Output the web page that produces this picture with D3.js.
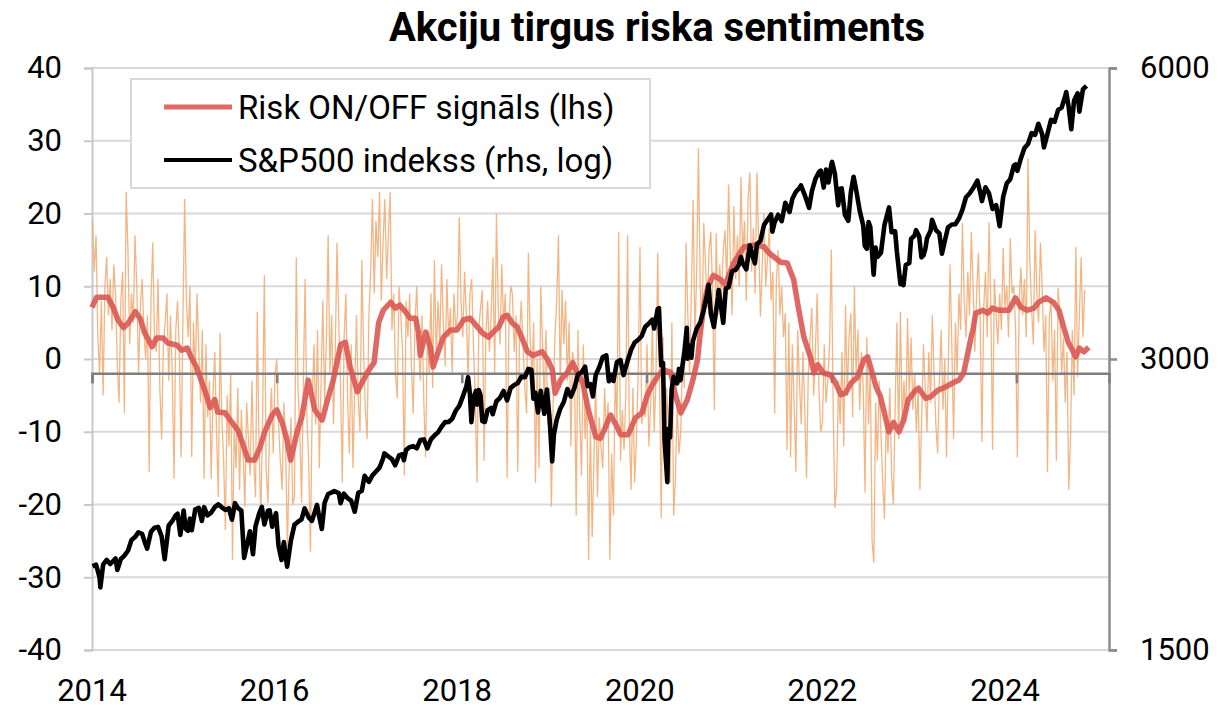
<!DOCTYPE html>
<html><head><meta charset="utf-8">
<script src="https://cdn.jsdelivr.net/npm/d3@7"></script>
<style>body{margin:0;background:#fff} svg{display:block} text{font-family:Roboto,"Noto Sans",sans-serif;fill:#000}</style>
</head><body><svg id="c" width="1221" height="708"></svg>
<script>
const title = "Akciju tirgus riska sentiments";
const legendLabels = ["Risk ON/OFF signāls (lhs)", "S&P500 indekss (rhs, log)"];
const leftTicks = [40,30,20,10,0,-10,-20,-30,-40];
const rightTicks = [1500,3000,6000];
const yearLabels = [2014,2016,2018,2020,2022,2024];

// weekly raw signal (thin orange), one array per year
const raw2014 = [19,12,17,3,-2,8,-5,10,14,6, 11,4,13,9,-1,-6,8,12,-7.5,23, 15,2,9,5,17,10,-2,7,11,4, 0,6,-15.5,8,16,3,1,11,-4,-11, 2,5,9,-3,6,-2,-16.5,4,8,1, -13.5,5];
const raw2015 = [22,8,3,10,-13.5,5,-2,9,1,-6, 4,-16.5,2,-8,-3,-16.5,-5,1,-10,-19, 3.6,-8,-14,-23.5,-5,-12,-2,-27.6,-9,-15, -4,-18,-7,-13,-20.3,-6,-11,-16,-3,-14, -19,6.5,-12,-22,-8,11.5,-15,-19.8,-9,-4, -13,-2];
const raw2016 = [0,-9,-14,-18,-6,-12,-25.8,-15,-8,-20, -19,14,-4,-10,-19.8,-3,11,-8,-14,-26.5, -6,2,-9,4,-15,-3,8,-6,3,17, -2,6,-9,1,16,5,-4,-17,3,9, -6,-13,2,-15,-4,6,-5.6,-10,13.6,1, -7,-11];
const raw2017 = [6,12,22,9,19,14,23,8,16,22, 11,17,23,4,9,-2,-5.4,10,6,1, -16,8,3,9,-1,-7.5,5,10,2,-3, 6,-6,-13.5,4,-2,9,-4,13.6,0,8, 2,13,5,-1,11,3,7,-2,9,4, 6,19.5];
const raw2018 = [8,3,12,6,-2.6,9,11,2,-5,-17, 4,7,9.5,-14,3,8,1,6,14,-2, 20,7,2,13,5,9,-16.4,4,10,9, 1,6,-15.5,3,8,2,-4,-7.5,14.6,3, -3,5,-17,0,-15,10,2,-6,4,-9, -4,-20.3];
const raw2019 = [-6,3,8,17,-4,9.5,2,8,-3,5, -12,1,-1,-21.5,4,-8,-16,2,-11,-5, -27.6,-9,-24.5,-14,-3,-19,-8,-12,-15,-4, -10,-6,-27.6,-13,-21.5,-2,-9,17.5,-14,-7, -12.5,-5,17,-10,-18,-4,-17,-11,-2,15.4, -9,-6];
const raw2020 = [-8,2,-12,-6.3,5,-10,-3,14.6,-2,-21.9, 3,-14,-4,-9,-17,5,-21.5,-16.6,-6,-13, -10,1,-4,16,6,-2,9,21.9,3,12, 29,10,4,18.7,12.6,7,15,17.5,9,-7, 17.3,6,13,8,15,17.7,10,24,14,6, 21,11];
const raw2021 = [17,10,25,14,19,8,22,25.6,12,18, 9,25.6,16,5.8,13,20,10,14,18,8, 12,-7.5,11,15,6,10,3,6.3,-12.5,5, -13.5,2,-6,-15.5,4,-3,-9,1,-7,-16.4, -2,3,7,-5,1,9,-4,-10,-8.8,2, -6,-3];
const raw2022 = [2,15,-6,-20.5,-17.6,-3,-9,1,-12,7.4, -5,3,6.3,-8,10,-2,4,-7,1,-4, -18.4,3,-9,-1,-25,-28,-6,-14,-3,-10, -17,-22,-8,-13,-4,-16,-20,-7,5,-11, 6.5,-9,-3,-8.8,5.6,-5,3,-7,-2,-10, -4,-18];
const raw2023 = [-8,2,-4,-10,1,-6,6,-2,-9,-13, -3,4,-7,0,-13.5,-1,13,2,-11,5, -2,9,4,18.7,8,3,12,6,17.5,10, 1,9,14.6,5,-11.4,7,12,3,18.8,8, -12.5,11,6,2,9,4,15.3,7,10,3, 16.6,9];
const raw2024 = [10,4,-13.5,8,12.6,6,11,3,27.6,14, 7,2,17.7,9,5,16,10,1,6,-15.5, 5.6,8,-3,4,-14,9.8,6,-2,3,-6, 1,-18,-10.7,4,-5,15.4,-2.5,6,14,3, 9.5];

// smoothed signal (thick red): [decimal year, value]
const smooth = [[2014.00,7.1],[2014.05,8.5],[2014.17,8.5],[2014.23,7.1],[2014.28,5.4],[2014.34,4.3],[2014.39,4.9],[2014.47,6.5],[2014.52,5.6],[2014.57,3.6],[2014.65,1.7],[2014.70,2.9],[2014.77,2.9],[2014.82,2.2],[2014.92,1.9],[2014.97,1.2],[2015.03,1.5],[2015.08,0.1],[2015.13,-1.1],[2015.17,-2.5],[2015.22,-4.3],[2015.28,-6.7],[2015.33,-5.6],[2015.36,-7.3],[2015.44,-7.4],[2015.52,-8.8],[2015.58,-9.8],[2015.63,-11.6],[2015.69,-13.9],[2015.76,-13.9],[2015.82,-12.1],[2015.87,-10.0],[2015.95,-7.7],[2016.00,-7.0],[2016.06,-8.8],[2016.11,-11.1],[2016.15,-13.9],[2016.22,-10.0],[2016.27,-8.0],[2016.34,-2.9],[2016.41,-7.0],[2016.49,-8.4],[2016.54,-6.0],[2016.61,-2.9],[2016.69,2.0],[2016.74,2.3],[2016.79,-1.0],[2016.87,-4.5],[2016.93,-3.0],[2016.99,-1.6],[2017.05,-0.5],[2017.10,5.0],[2017.15,6.7],[2017.23,7.8],[2017.28,7.0],[2017.33,7.4],[2017.39,6.5],[2017.44,5.6],[2017.50,5.6],[2017.53,3.7],[2017.55,0.5],[2017.61,3.7],[2017.66,1.6],[2017.69,-1.1],[2017.74,0.8],[2017.80,3.0],[2017.88,4.0],[2017.95,4.0],[2018.02,5.4],[2018.09,5.6],[2018.17,4.4],[2018.22,3.6],[2018.29,3.0],[2018.34,3.7],[2018.40,4.4],[2018.45,5.8],[2018.49,6.0],[2018.55,4.9],[2018.60,4.4],[2018.66,2.6],[2018.71,1.0],[2018.77,0.5],[2018.87,1.0],[2018.93,-0.1],[2018.98,-1.5],[2019.01,-4.7],[2019.07,-2.9],[2019.14,-1.9],[2019.20,-0.5],[2019.25,-1.9],[2019.31,-3.3],[2019.37,-7.0],[2019.45,-10.7],[2019.50,-10.9],[2019.55,-9.5],[2019.61,-7.7],[2019.66,-8.8],[2019.72,-10.4],[2019.80,-10.4],[2019.88,-8.1],[2019.95,-7.4],[2020.01,-4.9],[2020.06,-3.6],[2020.13,-2.2],[2020.18,-1.5],[2020.26,-1.8],[2020.31,-4.9],[2020.37,-7.4],[2020.44,-5.6],[2020.50,-2.9],[2020.55,-0.1],[2020.58,3.6],[2020.62,7.5],[2020.66,9.9],[2020.72,11.5],[2020.80,10.9],[2020.85,10.2],[2020.94,13.2],[2021.05,15.4],[2021.18,15.7],[2021.27,15.4],[2021.32,14.6],[2021.45,13.3],[2021.52,13.2],[2021.59,10.9],[2021.64,7.1],[2021.70,3.0],[2021.77,0.3],[2021.81,-1.9],[2021.85,-0.8],[2021.91,-1.9],[2021.99,-2.2],[2022.04,-3.2],[2022.10,-4.9],[2022.15,-4.7],[2022.21,-3.3],[2022.28,-2.5],[2022.35,-0.1],[2022.39,0.3],[2022.42,-1.0],[2022.48,-3.8],[2022.53,-5.2],[2022.59,-8.4],[2022.62,-10.0],[2022.67,-8.7],[2022.73,-10.0],[2022.78,-8.4],[2022.83,-5.6],[2022.91,-4.3],[2022.94,-4.0],[2023.02,-5.4],[2023.07,-5.2],[2023.15,-4.3],[2023.24,-3.8],[2023.31,-3.3],[2023.38,-2.9],[2023.43,-1.9],[2023.47,0.5],[2023.51,3.0],[2023.53,4.0],[2023.56,6.3],[2023.64,6.7],[2023.69,6.3],[2023.74,7.0],[2023.81,6.7],[2023.92,6.7],[2023.99,8.4],[2024.05,7.1],[2024.12,6.7],[2024.19,7.0],[2024.24,7.8],[2024.32,8.4],[2024.40,7.8],[2024.46,6.7],[2024.51,4.4],[2024.56,2.3],[2024.59,1.6],[2024.64,0.3],[2024.68,1.5],[2024.73,1.0],[2024.78,1.6]];

// S&P 500 (black, right log axis)
const spx = [["2014-01-03",1831],["2014-01-17",1838],["2014-01-31",1783],["2014-02-03",1741],["2014-02-14",1838],["2014-02-28",1859],["2014-03-14",1841],["2014-03-28",1857],["2014-04-04",1865],["2014-04-11",1815],["2014-04-25",1863],["2014-05-09",1878],["2014-05-23",1900],["2014-06-06",1949],["2014-06-20",1963],["2014-07-03",1985],["2014-07-18",1978],["2014-07-31",1931],["2014-08-07",1910],["2014-08-22",1988],["2014-09-05",2007],["2014-09-19",2011],["2014-10-03",1967],["2014-10-15",1862],["2014-10-31",2018],["2014-11-14",2039],["2014-11-28",2068],["2014-12-05",2075],["2014-12-16",1973],["2014-12-29",2091],
["2015-01-06",2003],["2015-01-15",1992],["2015-01-23",2051],["2015-01-30",1995],["2015-02-13",2097],["2015-02-27",2104],["2015-03-11",2040],["2015-03-20",2108],["2015-04-02",2067],["2015-04-17",2081],["2015-05-01",2108],["2015-05-15",2122],["2015-05-29",2107],["2015-06-12",2094],["2015-06-26",2102],["2015-07-08",2046],["2015-07-20",2128],["2015-07-31",2104],["2015-08-14",2091],["2015-08-25",1868],["2015-09-04",1921],["2015-09-17",1990],["2015-09-29",1884],["2015-10-09",2014],["2015-10-23",2075],["2015-11-03",2109],["2015-11-13",2023],["2015-11-27",2090],["2015-12-04",2092],["2015-12-14",2012],["2015-12-29",2078],
["2016-01-08",1922],["2016-01-20",1859],["2016-01-29",1940],["2016-02-11",1829],["2016-02-26",1948],["2016-03-11",2022],["2016-03-24",2035],["2016-04-08",2048],["2016-04-20",2102],["2016-05-06",2057],["2016-05-19",2040],["2016-06-08",2119],["2016-06-15",2071],["2016-06-27",2001],["2016-07-08",2130],["2016-07-22",2175],["2016-08-05",2183],["2016-08-15",2190],["2016-09-02",2180],["2016-09-09",2128],["2016-09-22",2177],["2016-10-07",2153],["2016-10-21",2141],["2016-11-04",2085],["2016-11-18",2182],["2016-12-02",2192],["2016-12-13",2271],["2016-12-30",2239],
["2017-01-13",2274],["2017-01-27",2295],["2017-02-10",2316],["2017-02-24",2367],["2017-03-01",2396],["2017-03-17",2378],["2017-03-31",2363],["2017-04-13",2329],["2017-04-28",2384],["2017-05-12",2391],["2017-05-17",2357],["2017-05-26",2416],["2017-06-09",2432],["2017-06-23",2438],["2017-07-07",2425],["2017-07-21",2473],["2017-08-04",2477],["2017-08-18",2425],["2017-09-01",2477],["2017-09-15",2500],["2017-09-29",2519],["2017-10-13",2553],["2017-10-27",2581],["2017-11-10",2582],["2017-11-24",2602],["2017-12-08",2652],["2017-12-22",2683],
["2018-01-05",2743],["2018-01-19",2810],["2018-01-26",2873],["2018-02-02",2762],["2018-02-08",2581],["2018-02-16",2732],["2018-02-26",2780],["2018-03-02",2691],["2018-03-09",2786],["2018-03-16",2752],["2018-03-23",2588],["2018-04-02",2582],["2018-04-13",2656],["2018-04-27",2670],["2018-05-03",2630],["2018-05-18",2713],["2018-06-01",2735],["2018-06-15",2780],["2018-06-29",2718],["2018-07-13",2801],["2018-07-27",2819],["2018-08-10",2833],["2018-08-24",2875],["2018-09-07",2872],["2018-09-21",2930],["2018-10-03",2925],["2018-10-11",2729],["2018-10-19",2768],["2018-10-29",2641],["2018-11-09",2781],["2018-11-23",2633],["2018-12-03",2790],["2018-12-14",2600],["2018-12-24",2351],["2018-12-31",2507],
["2019-01-11",2596],["2019-01-25",2665],["2019-02-08",2708],["2019-02-22",2793],["2019-03-08",2743],["2019-03-22",2801],["2019-04-05",2893],["2019-04-19",2905],["2019-05-03",2946],["2019-05-13",2812],["2019-05-24",2826],["2019-06-03",2744],["2019-06-14",2887],["2019-06-28",2942],["2019-07-12",3014],["2019-07-26",3026],["2019-08-05",2845],["2019-08-16",2889],["2019-08-23",2847],["2019-09-06",2979],["2019-09-20",2992],["2019-10-02",2887],["2019-10-18",2986],["2019-11-01",3067],["2019-11-15",3120],["2019-11-29",3141],["2019-12-13",3169],["2019-12-27",3240],
["2020-01-10",3265],["2020-01-24",3295],["2020-01-31",3226],["2020-02-14",3380],["2020-02-19",3386],["2020-02-28",2954],["2020-03-06",2972],["2020-03-12",2481],["2020-03-16",2386],["2020-03-23",2237],["2020-03-27",2541],["2020-04-03",2489],["2020-04-09",2790],["2020-04-17",2875],["2020-04-24",2837],["2020-05-01",2831],["2020-05-08",2930],["2020-05-14",2852],["2020-05-22",2955],["2020-05-29",3044],["2020-06-08",3232],["2020-06-11",3002],["2020-06-19",3098],["2020-06-26",3009],["2020-07-02",3130],["2020-07-17",3225],["2020-07-31",3271],["2020-08-14",3373],["2020-08-28",3508],["2020-09-02",3580],["2020-09-11",3341],["2020-09-23",3237],["2020-10-09",3477],["2020-10-12",3535],["2020-10-30",3270],["2020-11-09",3550],["2020-11-20",3558],["2020-12-04",3699],["2020-12-18",3709],["2020-12-31",3756],
["2021-01-08",3825],["2021-01-15",3768],["2021-01-29",3714],["2021-02-12",3934],["2021-02-26",3811],["2021-03-04",3768],["2021-03-12",3943],["2021-03-26",3975],["2021-04-09",4129],["2021-04-23",4180],["2021-05-07",4233],["2021-05-12",4063],["2021-05-21",4156],["2021-06-04",4230],["2021-06-18",4166],["2021-07-02",4352],["2021-07-19",4258],["2021-07-30",4395],["2021-08-13",4468],["2021-08-27",4509],["2021-09-02",4537],["2021-09-17",4433],["2021-10-04",4300],["2021-10-15",4471],["2021-10-29",4605],["2021-11-12",4683],["2021-11-19",4698],["2021-12-01",4513],["2021-12-10",4712],["2021-12-20",4568],["2021-12-31",4766],
["2022-01-03",4797],["2022-01-14",4663],["2022-01-27",4326],["2022-02-04",4500],["2022-02-10",4504],["2022-02-23",4226],["2022-03-08",4170],["2022-03-18",4463],["2022-03-29",4631],["2022-04-08",4488],["2022-04-22",4272],["2022-05-06",4123],["2022-05-12",3930],["2022-05-20",3901],["2022-05-27",4158],["2022-06-03",4109],["2022-06-16",3667],["2022-06-24",3912],["2022-07-01",3825],["2022-07-15",3863],["2022-07-29",4130],["2022-08-16",4305],["2022-08-26",4058],["2022-09-09",4067],["2022-09-16",3873],["2022-09-30",3586],["2022-10-07",3640],["2022-10-12",3577],["2022-10-21",3753],["2022-11-04",3771],["2022-11-11",3993],["2022-11-25",4026],["2022-12-01",4077],["2022-12-13",4019],["2022-12-22",3822],["2022-12-30",3840],
["2023-01-06",3895],["2023-01-13",3999],["2023-01-27",4071],["2023-02-02",4179],["2023-02-17",4079],["2023-03-03",4046],["2023-03-13",3855],["2023-03-24",3971],["2023-04-06",4105],["2023-04-21",4133],["2023-05-05",4136],["2023-05-19",4192],["2023-06-02",4282],["2023-06-16",4410],["2023-06-30",4450],["2023-07-14",4505],["2023-07-31",4589],["2023-08-11",4464],["2023-08-18",4370],["2023-09-01",4516],["2023-09-15",4450],["2023-09-29",4288],["2023-10-06",4308],["2023-10-13",4327],["2023-10-27",4117],["2023-11-10",4415],["2023-11-24",4559],["2023-12-08",4604],["2023-12-22",4755],["2023-12-29",4770],
["2024-01-05",4697],["2024-01-19",4840],["2024-02-02",4959],["2024-02-16",5006],["2024-03-01",5137],["2024-03-15",5117],["2024-03-28",5254],["2024-04-12",5123],["2024-04-19",4967],["2024-05-03",5128],["2024-05-17",5303],["2024-05-31",5278],["2024-06-14",5431],["2024-06-28",5460],["2024-07-12",5615],["2024-07-16",5667],["2024-07-26",5459],["2024-08-05",5186],["2024-08-16",5554],["2024-08-30",5648],["2024-09-06",5408],["2024-09-20",5702],["2024-10-04",5751]];

const rawSignal = [].concat(raw2014,raw2015,raw2016,raw2017,raw2018,raw2019,raw2020,raw2021,raw2022,raw2023,raw2024);
const rawStart = new Date(2014,0,3);
const rawData = rawSignal.map((v,i)=>({d:d3.timeWeek.offset(rawStart,i), v}));
const yearToDate = t => { const y=Math.floor(t); const a=new Date(y,0,1), b=new Date(y+1,0,1); return new Date(+a + (t-y)*(b-a)); };
const smoothData = smooth.map(([t,v])=>({d:yearToDate(t), v}));
const parse = d3.timeParse("%Y-%m-%d");
const spxData = spx.map(([s,v])=>({d:parse(s), v}));

const svg = d3.select("#c");
const X0=92, X1=1109, YT=68, YB=650;
const FS = 31;
const x = d3.scaleTime().domain([new Date(2014,0,1), new Date(2025,0,1)]).range([X0,X1]);
const yL = d3.scaleLinear().domain([-40,40]).range([YB,YT]);
const yR = d3.scaleLog().base(2).domain([1500,6000]).range([YB,YT]);
const xLab = d3.scaleLinear().domain([2014,2024]).range([92,1005]);
const hyphen = d => String(d).replace("\u2212","-");

// gridlines
svg.append("g").selectAll("line").data(leftTicks).join("line")
  .attr("x1",X0).attr("x2",X1-1).attr("y1",d=>yL(d)).attr("y2",d=>yL(d))
  .attr("stroke","#d9d9d9").attr("stroke-width",2);

// left axis
const gL = svg.append("g").attr("transform",`translate(${X0},0)`)
  .call(d3.axisLeft(yL).tickValues(leftTicks).tickSize(8).tickPadding(22).tickFormat(hyphen));
gL.select(".domain").attr("stroke","#c8c8c8").attr("stroke-width",2);
gL.selectAll(".tick line").attr("stroke","#c8c8c8").attr("stroke-width",2);
gL.selectAll("text").attr("font-size",FS).attr("font-family","Roboto").attr("fill","#000");

// right axis
const gR = svg.append("g").attr("transform",`translate(${X1},0)`)
  .call(d3.axisRight(yR).tickValues(rightTicks).tickSize(8).tickPadding(23).tickFormat(d3.format("d")));
gR.select(".domain").attr("stroke","#8c8c8c").attr("stroke-width",2.5);
gR.selectAll(".tick line").attr("stroke","#8c8c8c").attr("stroke-width",2.5);
gR.selectAll("text").attr("font-size",FS).attr("font-family","Roboto").attr("fill","#000");

// raw signal
svg.append("path").datum(rawData)
  .attr("d", d3.line().x(d=>x(d.d)).y(d=>yL(d.v)))
  .attr("fill","none").attr("stroke","#f2a86e").attr("stroke-opacity",0.85).attr("stroke-width",1.3);

// horizontal date axis line (crossing at 2900 on right axis)
const xAxisY = yR(2900);
const gX = svg.append("g").attr("transform",`translate(0,${xAxisY})`)
  .call(d3.axisBottom(x).tickValues(yearLabels.map(y=>new Date(y,0,1))).tickSize(10).tickFormat(""));
gX.select(".domain").attr("stroke","#7f7f7f").attr("stroke-width",2.5);
gX.selectAll(".tick line").attr("stroke","#7f7f7f").attr("stroke-width",2.5);

// year labels
svg.append("g").selectAll("text").data(yearLabels).join("text")
  .attr("x",d=>xLab(d)).attr("y",701).attr("text-anchor","middle")
  .attr("font-size",FS).text(d=>d);

// smoothed signal
svg.append("path").datum(smoothData)
  .attr("d", d3.line().x(d=>x(d.d)).y(d=>yL(d.v)))
  .attr("fill","none").attr("stroke","#d9534f").attr("stroke-opacity",0.88).attr("stroke-width",5.5)
  .attr("stroke-linejoin","round");

// S&P 500
svg.append("path").datum(spxData)
  .attr("d", d3.line().x(d=>x(d.d)).y(d=>yR(d.v)))
  .attr("fill","none").attr("stroke","#000").attr("stroke-width",4.6)
  .attr("stroke-linejoin","round");

// legend
const lg = svg.append("g");
lg.append("rect").attr("x",131).attr("y",79).attr("width",519).attr("height",109)
  .attr("fill","#fff").attr("stroke","#d9d9d9").attr("stroke-width",2);
const legColors = ["#df6a66","#000"];
const legY = [107,160];
legendLabels.forEach((t,i)=>{
  lg.append("line").attr("x1",164).attr("x2",232).attr("y1",legY[i]).attr("y2",legY[i])
    .attr("stroke",legColors[i]).attr("stroke-width",i===0?5:4);
  lg.append("text").attr("x",238).attr("y",legY[i]).attr("dy","0.36em")
    .attr("font-size",33).text(t);
});

// title
svg.append("text").attr("x",657).attr("y",41).attr("text-anchor","middle")
  .attr("font-size",40).attr("font-weight","bold").text(title);
</script></body></html>
